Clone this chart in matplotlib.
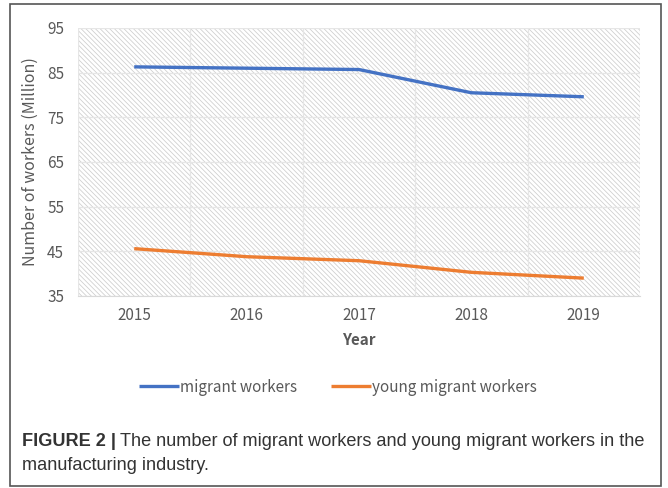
import numpy as np
import matplotlib.pyplot as plt
from matplotlib.patches import Rectangle

years = ["2015", "2016", "2017", "2018", "2019"]
migrant = [86.3, 86.0, 85.7, 80.5, 79.6]
young_migrant = [45.6, 43.8, 42.9, 40.3, 39.0]
series_names = ["migrant workers", "young migrant workers"]
y_ticks = [35, 45, 55, 65, 75, 85, 95]

chart_font = ["Noto Sans CJK SC", "DejaVu Sans"]
txt_gray = "#595959"
plt.rcParams["hatch.linewidth"] = 0.55

fig = plt.figure(figsize=(6.68, 4.88), dpi=100)
ax = fig.add_axes([78 / 668, 1 - 296 / 488, 562 / 668, 268 / 488])

x = np.arange(len(years))

# hatched plot background like the excel chart
ax.set_facecolor("white")
bg = Rectangle((0, 0), 1, 1, transform=ax.transAxes, facecolor="white",
               edgecolor="#cdcdcd", hatch="\\" * 7, lw=0, zorder=0)
ax.add_patch(bg)

ax.plot(x, migrant, color="#4472C4", lw=2.4, solid_capstyle="butt",
        label=series_names[0], zorder=3)
ax.plot(x, young_migrant, color="#ED7D31", lw=2.4, solid_capstyle="butt",
        label=series_names[1], zorder=3)

ax.set_xlim(-0.5, len(years) - 0.5)
ax.set_ylim(35, 95)
ax.set_yticks(y_ticks)
ax.set_xticks(x)
ax.set_xticklabels(years)
ax.set_xticks(np.arange(-0.5, len(years), 0.5), minor=True)
ax.grid(True, which="minor", axis="x", color="#e6e6e6", lw=0.9, zorder=1)
ax.grid(True, which="major", axis="y", color="#e6e6e6", lw=0.9, zorder=1)
ax.tick_params(which="both", length=0)
ax.tick_params(axis="x", pad=8)
ax.tick_params(axis="y", pad=10)
for lab in ax.get_xticklabels() + ax.get_yticklabels():
    lab.set_family(chart_font)
    lab.set_fontsize(11)
    lab.set_color(txt_gray)
for s in ax.spines.values():
    s.set_visible(False)
ax.spines["bottom"].set_visible(True)
ax.spines["bottom"].set_color("#d9d9d9")

ax.set_xlabel("Year", family=chart_font, fontsize=11, fontweight="bold",
              color=txt_gray, labelpad=6)
ax.set_ylabel("Number of workers (Million)", family=chart_font, fontsize=11.5,
              color=txt_gray, labelpad=6)

leg = fig.legend(loc="center", bbox_to_anchor=(338 / 668, 1 - 387 / 488), ncol=2,
                 frameon=False, handlelength=2.6, handletextpad=0.1,
                 columnspacing=2.2, prop={"family": chart_font, "size": 11})
for t in leg.get_texts():
    t.set_color(txt_gray)

# caption
cap_y1 = 1 - 441 / 488
cap_y2 = 1 - 466 / 488
bold = fig.text(22 / 668, cap_y1, "FIGURE 2 |", family="Liberation Sans",
                fontsize=13.1, fontweight="bold", color="#333333", va="center")
fig.canvas.draw()
bb = bold.get_window_extent(fig.canvas.get_renderer())
fig.text(bb.x1 / fig.bbox.width + 4 / 668, cap_y1,
         "The number of migrant workers and young migrant workers in the",
         family="Liberation Sans", fontsize=13.1, color="#333333", va="center")
fig.text(22 / 668, cap_y2, "manufacturing industry.",
         family="Liberation Sans", fontsize=13.1, color="#333333", va="center")

fig.add_artist(Rectangle((9.5 / 668, 2 / 488), 651 / 668, 482 / 488,
                         transform=fig.transFigure, fill=False,
                         edgecolor="#555555", lw=1.2))

fig.savefig("out.png", dpi=100)
